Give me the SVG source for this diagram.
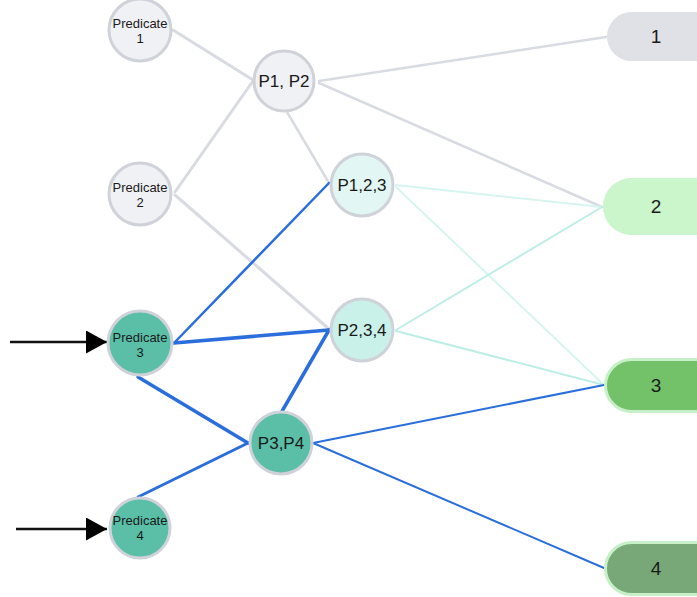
<svg xmlns="http://www.w3.org/2000/svg" width="697" height="597" viewBox="0 0 697 597">
<defs>
<marker id="ah" viewBox="0 0 21 23" refX="21" refY="11.5" markerWidth="21" markerHeight="23" markerUnits="userSpaceOnUse" orient="auto">
<path d="M0,0 L21,11.5 L0,23 Z" fill="#000"/>
</marker>
<style>
.t{font-family:"Liberation Sans",Arial,sans-serif;fill:#1a1a1a;text-anchor:middle}
.ps{font-size:13px}
.pm{font-size:17px}
.pl{font-size:19px}
.c{stroke:#cfd2d9;stroke-width:3}
.g{fill:#f0f1f4}
.lc{fill:#e2f6f3}
.mc{fill:#c9f1ea}
.tl{fill:#5bbfa8}
.e{fill:none;stroke-linecap:round}
.gr{stroke:#d8dbe1}
.cy1{stroke:#d6f5ef;stroke-width:2}
.cy2{stroke:#bdeee6;stroke-width:2}
.bl{stroke:#2a6ede}
</style>
</defs>
<rect width="697" height="597" fill="#fff"/>
<g id="connectors">
<line class="e gr" x1="173" y1="30" x2="253" y2="80" stroke-width="3"/>
<line class="e gr" x1="175" y1="192" x2="253" y2="81" stroke-width="3"/>
<line class="e gr" x1="287" y1="112" x2="329" y2="183" stroke-width="2.5"/>
<line class="e gr" x1="175" y1="195" x2="329" y2="329" stroke-width="3"/>
<line class="e gr" x1="319" y1="81" x2="606" y2="37" stroke-width="2.5"/>
<line class="e gr" x1="319" y1="83" x2="602" y2="207" stroke-width="2.5"/>
<line class="e cy1" x1="396" y1="185" x2="602" y2="207"/>
<line class="e cy1" x1="396" y1="187" x2="604" y2="385"/>
<line class="e cy2" x1="396" y1="330" x2="602" y2="207"/>
<line class="e cy2" x1="396" y1="331" x2="604" y2="385"/>
<line class="e bl" x1="174" y1="343" x2="329" y2="183" stroke-width="2.5"/>
<line class="e bl" x1="174" y1="343" x2="329" y2="330" stroke-width="3.5"/>
<line class="e bl" x1="138" y1="377" x2="248" y2="443" stroke-width="3.5"/>
<line class="e bl" x1="138" y1="497" x2="248" y2="443" stroke-width="3"/>
<line class="e bl" x1="281" y1="413" x2="329" y2="330" stroke-width="3.5"/>
<line class="e bl" x1="313" y1="443" x2="604" y2="385" stroke-width="2"/>
<line class="e bl" x1="313" y1="443" x2="604" y2="568" stroke-width="2"/>
<line x1="10" y1="342" x2="107" y2="342" stroke="#111" stroke-width="2.5" marker-end="url(#ah)"/>
<line x1="16" y1="529" x2="107" y2="529" stroke="#111" stroke-width="2.5" marker-end="url(#ah)"/>
</g>
<g id="pred1"><circle class="c g" cx="140" cy="30" r="31"/><text class="t ps" x="140" y="28">Predicate</text><text class="t ps" x="140" y="43">1</text></g>
<g id="pred2"><circle class="c g" cx="140" cy="194" r="31"/><text class="t ps" x="140" y="192">Predicate</text><text class="t ps" x="140" y="207">2</text></g>
<g id="pred3"><circle class="c tl" cx="140" cy="343" r="32"/><text class="t ps" x="140" y="342">Predicate</text><text class="t ps" x="140" y="357">3</text></g>
<g id="pred4"><circle class="c tl" cx="140" cy="528" r="30"/><text class="t ps" x="140" y="525">Predicate</text><text class="t ps" x="140" y="540">4</text></g>
<g id="p12"><circle class="c g" cx="284" cy="81" r="30"/><text class="t pm" x="284" y="87">P1, P2</text></g>
<g id="p123"><circle class="c lc" cx="362" cy="185" r="31"/><text class="t pm" x="362" y="191">P1,2,3</text></g>
<g id="p234"><circle class="c mc" cx="362" cy="330" r="31"/><text class="t pm" x="362" y="336">P2,3,4</text></g>
<g id="p34"><circle class="c tl" cx="281" cy="443" r="31"/><text class="t pm" x="281" y="449">P3,P4</text></g>
<g id="out1"><rect x="607" y="12" width="120" height="49" rx="24.5" fill="#dfe1e6"/><text class="t pl" x="656" y="43">1</text></g>
<g id="out2"><rect x="603" y="178" width="124" height="57" rx="28.5" fill="#cbf5cb"/><text class="t pl" x="656" y="213">2</text></g>
<g id="out3"><rect x="605.5" y="359.5" width="120" height="52" rx="26" fill="#73c26a" stroke="#c8f0c8" stroke-width="3"/><text class="t pl" x="656" y="392">3</text></g>
<g id="out4"><rect x="605.5" y="542.5" width="120" height="52" rx="26" fill="#78a878" stroke="#c8f0c8" stroke-width="3"/><text class="t pl" x="656" y="575">4</text></g>
</svg>
